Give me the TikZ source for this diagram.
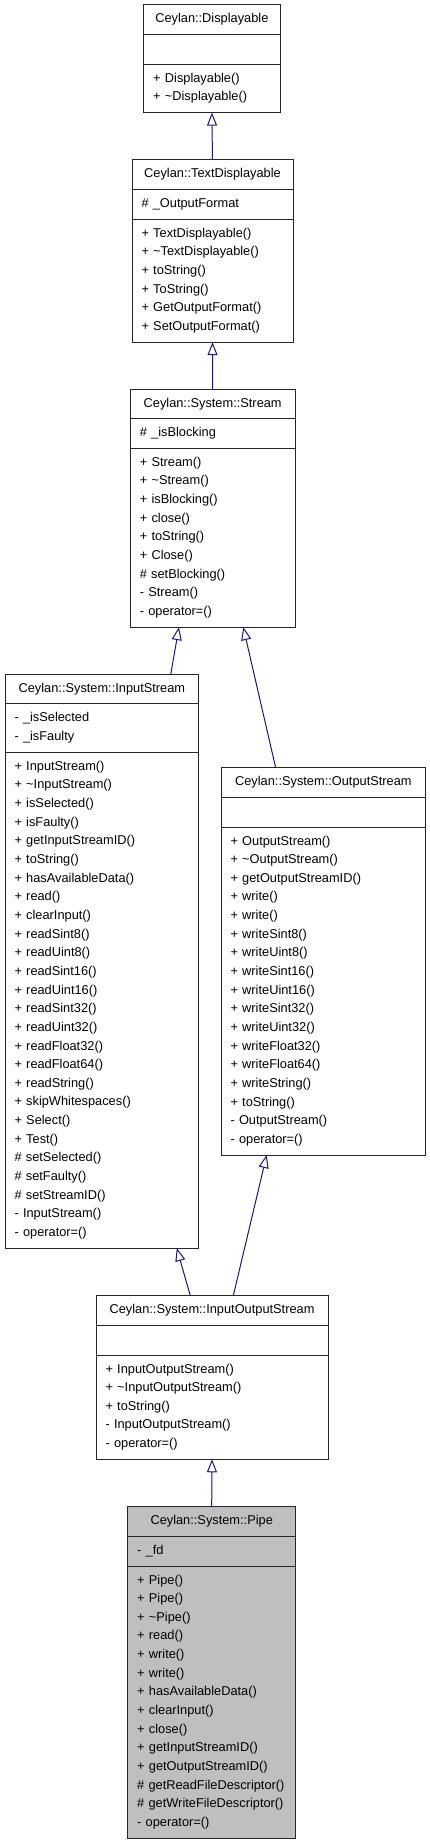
\documentclass[tikz,border=0pt]{standalone}
\usepackage{fontspec}
\setmainfont{Liberation Sans}
\usepackage{tikz}
\usetikzlibrary{positioning,arrows.meta}

\definecolor{edgeblue}{HTML}{191970}
\definecolor{pipegray}{HTML}{BFBFBF}
\newcommand{\umlstrut}{\rule[-6.15pt]{0pt}{18.65pt}}

\tikzset{
  part/.style={draw=black!85, line width=1pt, outer sep=0pt, inner xsep=9.5pt, inner ysep=5.5pt,
    minimum width=#1, text width=#1-19pt, font={\fontsize{12.8pt}{18.65pt}\selectfont\hyphenpenalty=10000},
    execute at begin node={\umlstrut}, execute at end node={\umlstrut}},
  title/.style={part=#1, align=center, anchor=north},
  attrs/.style={part=#1, align=left, minimum height=29.65pt},
  ops/.style={part=#1, align=left},
  inherit/.style={draw=edgeblue, line width=1pt, -{Triangle[open,length=13pt,width=10pt]}}
}

\begin{document}
\begin{tikzpicture}[x=1pt,y=-1pt]
  \useasboundingbox (0,0) rectangle (429,1843);

  % Ceylan::Displayable
  \node[title=136.3pt] (disp) at (211.85,5) {Ceylan::Displayable};
  \node[attrs=136.3pt, below=0pt of disp] (disp-attr) {};
  \node[ops=136.3pt, below=0pt of disp-attr] (disp-ops) {+ Displayable()\\+ \textasciitilde Displayable()};

  % Ceylan::TextDisplayable
  \node[title=161pt] (txtdisp) at (212.5,160) {Ceylan::TextDisplayable};
  \node[attrs=161pt, below=0pt of txtdisp] (txtdisp-attr) {\# \_OutputFormat};
  \node[ops=161pt, below=0pt of txtdisp-attr] (txtdisp-ops) {+ TextDisplayable()\\+ \textasciitilde TextDisplayable()\\+ toString()\\+ ToString()\\+ GetOutputFormat()\\+ SetOutputFormat()};

  % Ceylan::System::Stream
  \node[title=164.7pt] (stream) at (212.65,389) {Ceylan::System::Stream};
  \node[attrs=164.7pt, below=0pt of stream] (stream-attr) {\# \_isBlocking};
  \node[ops=164.7pt, below=0pt of stream-attr] (stream-ops) {+ Stream()\\+ \textasciitilde Stream()\\+ isBlocking()\\+ close()\\+ toString()\\+ Close()\\\# setBlocking()\\- Stream()\\- operator=()};

  % Ceylan::System::InputStream
  \node[title=193.7pt] (istream) at (101.85,674.3) {Ceylan::System::InputStream};
  \node[attrs=193.7pt, below=0pt of istream] (istream-attr) {- \_isSelected\\- \_isFaulty};
  \node[ops=193.7pt, below=0pt of istream-attr] (istream-ops) {+ InputStream()\\+ \textasciitilde InputStream()\\+ isSelected()\\+ isFaulty()\\+ getInputStreamID()\\+ toString()\\+ hasAvailableData()\\+ read()\\+ clearInput()\\+ readSint8()\\+ readUint8()\\+ readSint16()\\+ readUint16()\\+ readSint32()\\+ readUint32()\\+ readFloat32()\\+ readFloat64()\\+ readString()\\+ skipWhitespaces()\\+ Select()\\+ Test()\\\# setSelected()\\\# setFaulty()\\\# setStreamID()\\- InputStream()\\- operator=()};

  % Ceylan::System::OutputStream
  \node[title=204.7pt] (ostream) at (323.35,767.7) {Ceylan::System::OutputStream};
  \node[attrs=204.7pt, below=0pt of ostream] (ostream-attr) {};
  \node[ops=204.7pt, below=0pt of ostream-attr] (ostream-ops) {+ OutputStream()\\+ \textasciitilde OutputStream()\\+ getOutputStreamID()\\+ write()\\+ write()\\+ writeSint8()\\+ writeUint8()\\+ writeSint16()\\+ writeUint16()\\+ writeSint32()\\+ writeUint32()\\+ writeFloat32()\\+ writeFloat64()\\+ writeString()\\+ toString()\\- OutputStream()\\- operator=()};

  % Ceylan::System::InputOutputStream
  \node[title=232pt] (iostream) at (212,1295.7) {Ceylan::System::InputOutputStream};
  \node[attrs=232pt, below=0pt of iostream] (iostream-attr) {};
  \node[ops=232pt, below=0pt of iostream-attr] (iostream-ops) {+ InputOutputStream()\\+ \textasciitilde InputOutputStream()\\+ toString()\\- InputOutputStream()\\- operator=()};

  % Ceylan::System::Pipe
  \node[title=168pt, fill=pipegray] (pipe) at (211.7,1506.7) {Ceylan::System::Pipe};
  \node[attrs=168pt, fill=pipegray, below=0pt of pipe] (pipe-attr) {- \_fd};
  \node[ops=168pt, fill=pipegray, below=0pt of pipe-attr] (pipe-ops) {+ Pipe()\\+ Pipe()\\+ \textasciitilde Pipe()\\+ read()\\+ write()\\+ write()\\+ hasAvailableData()\\+ clearInput()\\+ close()\\+ getInputStreamID()\\+ getOutputStreamID()\\\#~getReadFileDescriptor()\\\#~getWriteFileDescriptor()\\- operator=()};

  % inheritance
  \draw[inherit] (txtdisp.north) -- (disp-ops.south);
  \draw[inherit] (stream.north) -- (txtdisp-ops.south);
  \draw[inherit] ([xshift=68.9pt]istream.north) -- ([xshift=-33.7pt]stream-ops.south);
  \draw[inherit] ([xshift=-47.7pt]ostream.north) -- ([xshift=30.6pt]stream-ops.south);
  \draw[inherit] ([xshift=-21.7pt]iostream.north) -- ([xshift=74.9pt]istream-ops.south);
  \draw[inherit] ([xshift=21.3pt]iostream.north) -- ([xshift=-56.7pt]ostream-ops.south);
  \draw[inherit] (pipe.north) -- (iostream-ops.south);
\end{tikzpicture}
\end{document}
